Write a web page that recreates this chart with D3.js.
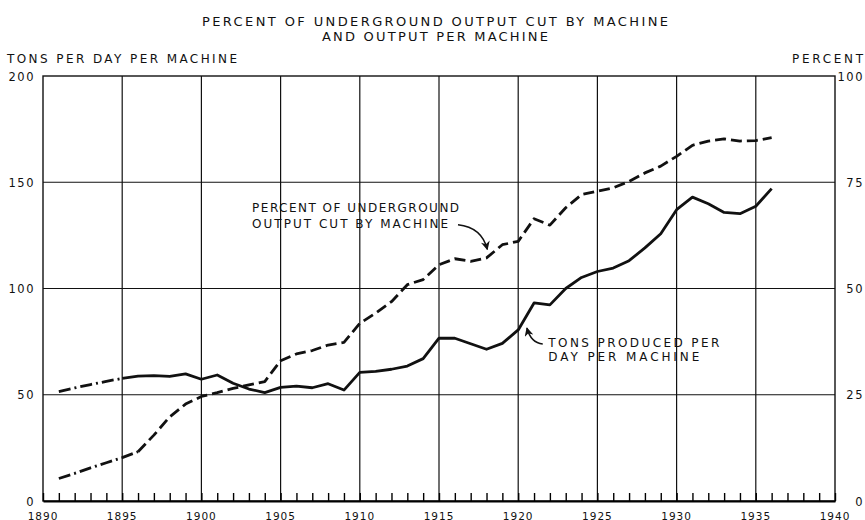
<!DOCTYPE html>
<html>
<head>
<meta charset="utf-8">
<script src="https://cdn.jsdelivr.net/npm/d3@7"></script>
<style>
  body { margin: 0; background: #fff; }
  svg text { font-family: 'DejaVu Sans', sans-serif; fill: #111; text-transform: uppercase; }
</style>
</head>
<body>
<svg id="chart" width="865" height="520"></svg>
<script>
// years and series
const years = d3.range(1891, 1937)
const tonsPerMachine = [
  51.5, 53.2, 54.8, 56.3, 57.7, 58.8, 59.0, 58.6, 59.8, 57.3,
  59.3, 55.4, 52.7, 51.0, 53.5, 54.1, 53.3, 55.2, 52.2, 60.5,
  61.0, 62.0, 63.5, 67.0, 76.6, 76.6, 74.0, 71.4, 74.2, 80.5,
  93.2, 92.3, 100.0, 105.2, 108.0, 109.6, 113.1, 119.1, 125.8, 137.1,
  143.0, 139.9, 135.8, 135.2, 138.7, 147.0
]
const percentCut = [
  5.3, 6.5, 7.8, 9.0, 10.2, 11.6, 15.5, 19.8, 22.8, 24.6,
  25.5, 26.5, 27.3, 28.1, 33.0, 34.6, 35.4, 36.7, 37.3, 41.8,
  44.2, 46.9, 50.9, 52.1, 55.6, 57.0, 56.4, 57.2, 60.3, 61.1,
  66.4, 64.9, 69.0, 72.1, 72.9, 73.7, 75.2, 77.2, 78.8, 81.1,
  83.7, 84.7, 85.2, 84.7, 84.8, 85.5
]
// early years are drawn as dash-dot on the original
const tonsEstimatedUntil = 1895
const percentEstimatedUntil = 1896

const leftTicks = [0, 50, 100, 150, 200]
const rightTicks = [0, 25, 50, 75, 100]
const yearTicks = d3.range(1890, 1941, 5)

const svg = d3.select('#chart')
const margin = { left: 43, right: 30, top: 76, bottom: 19 }
const width = 865, height = 520

const x = d3.scaleLinear().domain([1890, 1940]).range([margin.left, width - margin.right])
const yL = d3.scaleLinear().domain([0, 200]).range([height - margin.bottom, margin.top])
const yR = d3.scaleLinear().domain([0, 100]).range([height - margin.bottom, margin.top])

// grid
const grid = svg.append('g').attr('stroke', '#111').attr('stroke-width', 1.2)
grid.selectAll('.v').data(yearTicks.slice(1, -1)).join('line')
  .attr('x1', d => x(d)).attr('x2', d => x(d))
  .attr('y1', yL(200)).attr('y2', yL(0))
grid.selectAll('.h').data(leftTicks.slice(1, -1)).join('line')
  .attr('x1', x(1890)).attr('x2', x(1940))
  .attr('y1', d => yL(d)).attr('y2', d => yL(d))
svg.append('rect')
  .attr('x', x(1890)).attr('y', yL(200))
  .attr('width', x(1940) - x(1890)).attr('height', yL(0) - yL(200))
  .attr('fill', 'none').attr('stroke', '#111').attr('stroke-width', 1.4)

// year ticks on bottom
const bottomAxis = d3.axisBottom(x).ticks(50).tickSizeInner(-8).tickSizeOuter(0).tickFormat('')
svg.append('g').attr('transform', `translate(0,${yL(0)})`).call(bottomAxis)
  .call(g => g.select('.domain').attr('stroke-width', 2.2))
  .call(g => g.selectAll('.tick line').attr('stroke-width', 1.4))

// tick labels
svg.append('g').selectAll('text').data(yearTicks).join('text')
  .attr('x', d => x(d)).attr('y', 519.5).attr('text-anchor', 'middle')
  .attr('font-size', 10.5).attr('letter-spacing', 1).text(d => d)
svg.append('g').selectAll('text').data(leftTicks).join('text')
  .attr('x', 35).attr('y', d => yL(d) + 4.5).attr('text-anchor', 'end')
  .attr('font-size', 11.5).attr('letter-spacing', 1.5).text(d => d)
svg.append('g').selectAll('text').data(rightTicks).join('text')
  .attr('x', 864).attr('y', d => yR(d) + 4.5).attr('text-anchor', 'end')
  .attr('font-size', 11.5).attr('letter-spacing', 1.5).text(d => d)

// titles
const label = (t, px, py, len, size, anchor) => svg.append('text')
  .attr('x', px).attr('y', py).attr('text-anchor', anchor || 'start')
  .attr('font-size', size).attr('textLength', len).attr('lengthAdjust', 'spacing')
  .text(t)
label('Percent of underground output cut by machine', 202, 25.5, 466, 13)
label('and output per machine', 322, 41, 226, 13)
label('Tons per day per machine', 7, 63.3, 230, 12)
label('Percent', 792, 63.3, 71, 12)

// lines
const tonsPts = years.map((yr, i) => [yr, tonsPerMachine[i]])
const pctPts = years.map((yr, i) => [yr, percentCut[i]])
const lineL = d3.line().x(d => x(d[0])).y(d => yL(d[1]))
const lineR = d3.line().x(d => x(d[0])).y(d => yR(d[1]))

const lines = svg.append('g').attr('fill', 'none').attr('stroke', '#111')
  .attr('stroke-width', 2.8).attr('stroke-linejoin', 'round')
lines.append('path').attr('d', lineL(tonsPts.filter(d => d[0] <= tonsEstimatedUntil)))
  .attr('stroke-dasharray', '12,4,2,4')
lines.append('path').attr('d', lineL(tonsPts.filter(d => d[0] >= tonsEstimatedUntil)))
lines.append('path').attr('d', lineR(pctPts.filter(d => d[0] <= percentEstimatedUntil)))
  .attr('stroke-dasharray', '12,4,2,4')
lines.append('path').attr('d', lineR(pctPts.filter(d => d[0] >= percentEstimatedUntil)))
  .attr('stroke-dasharray', '11,5')

// annotations
svg.append('defs').append('marker').attr('id', 'arr')
  .attr('viewBox', '0 0 10 10').attr('refX', 9).attr('refY', 5)
  .attr('markerWidth', 6).attr('markerHeight', 6).attr('orient', 'auto')
  .append('path').attr('d', 'M0,0 L10,5 L0,10 L3,5 Z').attr('fill', '#111')

label('Percent of underground', x(1903.2), yR(67.9), 207, 12)
label('output cut by machine', x(1903.2), yR(64.2), 196, 12)
label('Tons produced per', x(1921.9), yL(72.6), 171, 12)
label('day per machine', x(1921.9), yL(66), 151, 12)

const arrows = svg.append('g').attr('fill', 'none').attr('stroke', '#111').attr('stroke-width', 1.5)
arrows.append('path')
  .attr('d', `M${x(1916.2)},${yR(65)} Q${x(1917.7)},${yR(64.4)} ${x(1918.05)},${yR(59.2)}`)
  .attr('marker-end', 'url(#arr)')
arrows.append('path')
  .attr('d', `M${x(1921.55)},${yL(73.9)} Q${x(1920.8)},${yL(74.4)} ${x(1920.55)},${yL(81.4)}`)
  .attr('marker-end', 'url(#arr)')
</script>
</body>
</html>
